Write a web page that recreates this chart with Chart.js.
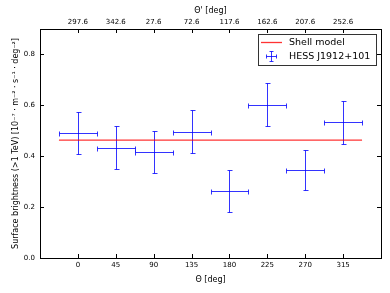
<!DOCTYPE html>
<html>
<head>
<meta charset="utf-8">
<script src="https://cdn.jsdelivr.net/npm/chart.js@4"></script>
<style>
  body { margin: 0; background: #fff; }
  #wrap { width: 390px; height: 293px; }
</style>
</head>
<body>
<div id="wrap"><canvas id="c" width="390" height="293"></canvas></div>
<script>
// --- DATA ---
const thetaBins = [0, 45, 90, 135, 180, 225, 270, 315];        // bin centres [deg]
const thetaErr = [22.5, 22.5, 22.5, 22.5, 22.5, 22.5, 22.5, 22.5];
const brightness = [0.491, 0.433, 0.418, 0.496, 0.262, 0.603, 0.345, 0.533];
const brightnessErr = [0.084, 0.085, 0.083, 0.084, 0.082, 0.083, 0.079, 0.083];
const shellTheta = [-22.5, 337.5];
const shellModel = [0.463, 0.463];
const yTicks = [0, 0.2, 0.4, 0.6, 0.8];
const topTickLabels = ['297.6', '342.6', '27.6', '72.6', '117.6', '162.6', '207.6', '252.6'];

const FONT = 'DejaVu Sans';
const BLUE = 'rgba(0,0,255,0.8)';
const RED = 'rgba(255,0,0,0.8)';

// --- ERROR BARS, INWARD TICKS, FRAME AND LEGEND ---
const errorBars = {
  id: 'errorBars',
  beforeDatasetsDraw(chart) {
    const { ctx, scales: { x, y } } = chart;
    const crisp = v => Math.round(v) + 0.5;
    ctx.save();
    ctx.strokeStyle = BLUE;
    ctx.lineWidth = 1;
    ctx.beginPath();
    thetaBins.forEach((t, i) => {
      const cx = crisp(x.getPixelForValue(t));
      const cy = crisp(y.getPixelForValue(brightness[i]));
      const x0 = crisp(x.getPixelForValue(t - thetaErr[i]));
      const x1 = crisp(x.getPixelForValue(t + thetaErr[i]));
      const y0 = crisp(y.getPixelForValue(brightness[i] + brightnessErr[i]));
      const y1 = crisp(y.getPixelForValue(brightness[i] - brightnessErr[i]));
      ctx.moveTo(x0, cy); ctx.lineTo(x1, cy);
      ctx.moveTo(cx, y0); ctx.lineTo(cx, y1);
      // caps
      ctx.moveTo(cx - 2, y0); ctx.lineTo(cx + 3, y0);
      ctx.moveTo(cx - 2, y1); ctx.lineTo(cx + 3, y1);
      ctx.moveTo(x0, cy - 2); ctx.lineTo(x0, cy + 3);
      ctx.moveTo(x1, cy - 2); ctx.lineTo(x1, cy + 3);
    });
    ctx.stroke();
    ctx.restore();
  },
  afterDraw(chart) {
    const { ctx, chartArea: a, scales: { x, y } } = chart;
    ctx.save();
    ctx.strokeStyle = '#000';
    ctx.lineWidth = 1;
    ctx.beginPath();
    // inward ticks on all four sides
    x.ticks.forEach(t => {
      const px = Math.round(x.getPixelForValue(t.value)) + 0.5;
      ctx.moveTo(px, a.bottom); ctx.lineTo(px, a.bottom - 4);
      ctx.moveTo(px, a.top); ctx.lineTo(px, a.top + 4);
    });
    y.ticks.forEach(t => {
      const py = Math.round(y.getPixelForValue(t.value)) + 0.5;
      ctx.moveTo(a.left, py); ctx.lineTo(a.left + 4, py);
      ctx.moveTo(a.right, py); ctx.lineTo(a.right - 4, py);
    });
    ctx.stroke();
    ctx.strokeRect(Math.round(a.left) + 0.5, Math.round(a.top) + 0.5,
      Math.round(a.right - a.left), Math.round(a.bottom - a.top));

    // legend box
    const lx = 258.5, ly = 34.5, lw = 118, lh = 31;
    ctx.fillStyle = '#fff';
    ctx.fillRect(lx, ly, lw, lh);
    ctx.strokeStyle = '#333';
    ctx.strokeRect(lx, ly, lw, lh);
    const ds = chart.data.datasets;
    ctx.font = '9.5px ' + FONT;
    ctx.fillStyle = '#000';
    ctx.textBaseline = 'middle';
    // row 1: shell model line
    ctx.strokeStyle = RED;
    ctx.lineWidth = 1.3;
    ctx.beginPath(); ctx.moveTo(261, 42.5); ctx.lineTo(282, 42.5); ctx.stroke();
    ctx.fillText(ds[0].label, 289, 43);
    // row 2: error bar symbol
    ctx.strokeStyle = BLUE;
    ctx.lineWidth = 1;
    ctx.beginPath();
    ctx.moveTo(266.5, 56.5); ctx.lineTo(276.5, 56.5);
    ctx.moveTo(271.5, 51.5); ctx.lineTo(271.5, 61.5);
    ctx.moveTo(269.5, 51.5); ctx.lineTo(273.5, 51.5);
    ctx.moveTo(269.5, 61.5); ctx.lineTo(273.5, 61.5);
    ctx.moveTo(266.5, 54.5); ctx.lineTo(266.5, 58.5);
    ctx.moveTo(276.5, 54.5); ctx.lineTo(276.5, 58.5);
    ctx.stroke();
    ctx.fillText(ds[1].label, 289, 57);
    ctx.restore();
  }
};

// --- CHART ---
const ctx = document.getElementById('c').getContext('2d');
const tickFont = { family: FONT, size: 7 };
const titleFont = { family: FONT, size: 8 };

new Chart(ctx, {
  type: 'scatter',
  data: {
    datasets: [
      {
        type: 'line',
        label: 'Shell model',
        data: shellTheta.map((t, i) => ({ x: t, y: shellModel[i] })),
        borderColor: RED,
        borderWidth: 1.3,
        pointRadius: 0,
        fill: false
      },
      {
        label: 'HESS J1912+101',
        data: thetaBins.map((t, i) => ({ x: t, y: brightness[i] })),
        pointRadius: 0,
        borderColor: 'blue'
      }
    ]
  },
  options: {
    responsive: false,
    devicePixelRatio: 1,
    animation: false,
    layout: { padding: { left: 0, right: 9, top: 0, bottom: 0 } },
    plugins: {
      legend: { display: false },
      tooltip: { enabled: false }
    },
    scales: {
      x: {
        type: 'linear',
        position: 'bottom',
        min: -45,
        max: 360,
        grid: { display: false, drawTicks: false },
        border: { display: false },
        afterBuildTicks: s => { s.ticks = thetaBins.map(v => ({ value: v })); },
        afterFit: s => { s.height = 35; },
        ticks: { color: '#000', font: tickFont, padding: 3, maxRotation: 0, callback: v => String(v) },
        title: { display: true, text: 'Θ [deg]', color: '#000', font: titleFont, padding: { top: 0, bottom: 8 } }
      },
      x2: {
        type: 'linear',
        position: 'top',
        min: -45,
        max: 360,
        grid: { display: false, drawTicks: false },
        border: { display: false },
        afterBuildTicks: s => { s.ticks = thetaBins.map(v => ({ value: v })); },
        afterFit: s => { s.height = 29; },
        ticks: {
          color: '#000', font: tickFont, padding: 3, maxRotation: 0,
          callback: (v) => topTickLabels[thetaBins.indexOf(v)]
        },
        title: { display: true, text: "Θ' [deg]", color: '#000', font: titleFont, padding: { top: 6, bottom: 0 } }
      },
      y: {
        type: 'linear',
        min: 0,
        max: 0.9,
        grid: { display: false, drawTicks: false },
        border: { display: false },
        afterBuildTicks: s => { s.ticks = yTicks.map(v => ({ value: v })); },
        afterFit: s => { s.width = 40; },
        ticks: { color: '#000', font: tickFont, padding: 5, callback: v => v.toFixed(1) },
        title: {
          display: true,
          text: 'Surface brightness (>1 TeV) [10⁻⁷ · m⁻² · s⁻¹ · deg⁻²]',
          color: '#000', font: titleFont, padding: { top: 11, bottom: 0 }
        }
      }
    }
  },
  plugins: [errorBars]
});
</script>
</body>
</html>
